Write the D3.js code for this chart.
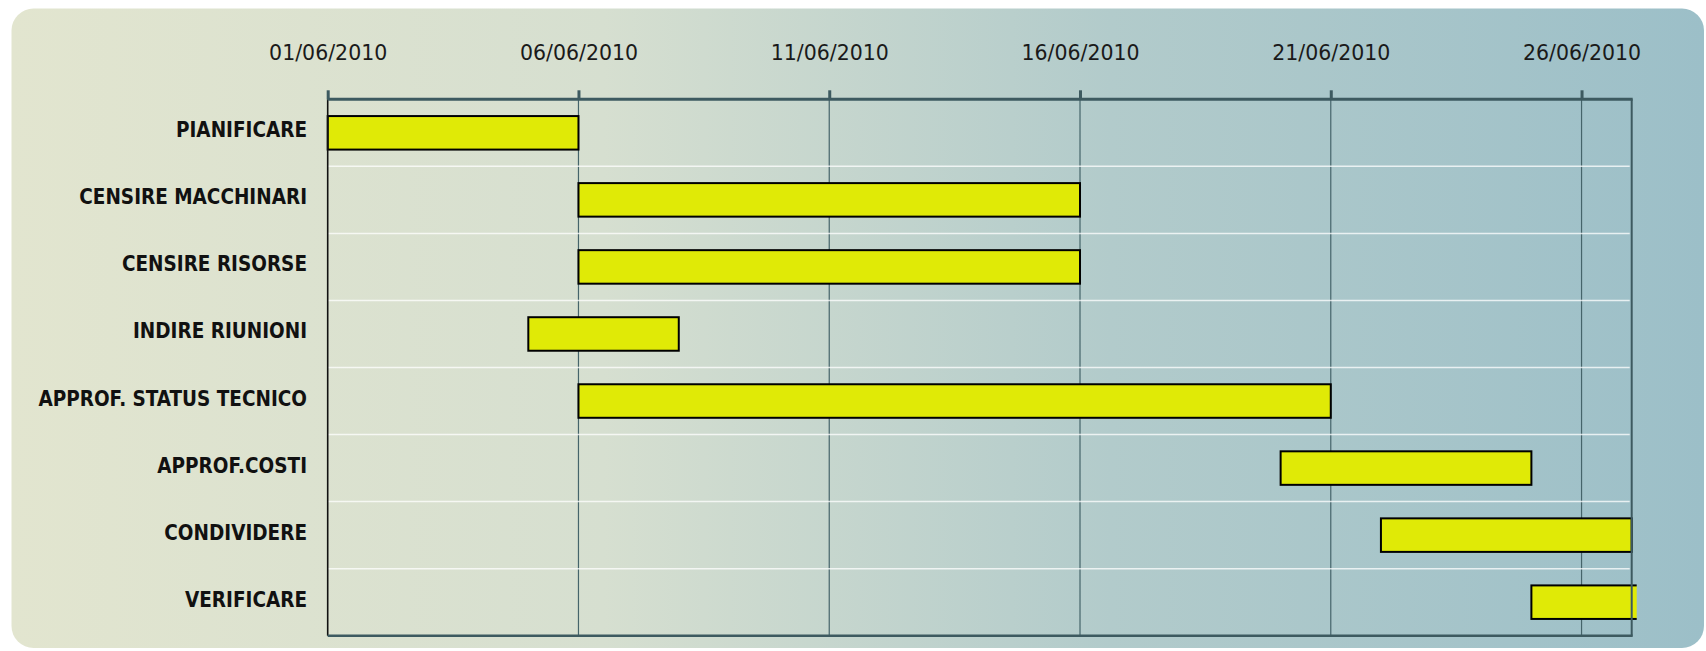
<!DOCTYPE html>
<html>
<head>
<meta charset="utf-8">
<script src="https://cdnjs.cloudflare.com/ajax/libs/d3/7.8.5/d3.min.js"></script>
<style>
  html, body { margin: 0; padding: 0; background: #ffffff; }
  svg { display: block; }
</style>
</head>
<body>
<svg id="chart" width="1706" height="651"></svg>
<script>
// ---- data ----
const categories = [
  "PIANIFICARE",
  "CENSIRE MACCHINARI",
  "CENSIRE RISORSE",
  "INDIRE RIUNIONI",
  "APPROF. STATUS TECNICO",
  "APPROF.COSTI",
  "CONDIVIDERE",
  "VERIFICARE"
];
const startDates = ["2010-06-01","2010-06-06","2010-06-06","2010-06-05","2010-06-06","2010-06-20","2010-06-22","2010-06-25"];
const endDates   = ["2010-06-06","2010-06-16","2010-06-16","2010-06-08","2010-06-21","2010-06-25","2010-06-27","2010-06-30"];
const tickDates  = ["2010-06-01","2010-06-06","2010-06-11","2010-06-16","2010-06-21","2010-06-26"];
const tickLabels = ["01/06/2010","06/06/2010","11/06/2010","16/06/2010","21/06/2010","26/06/2010"];
const axisRange  = ["2010-06-01","2010-06-27"];

// ---- helpers ----
const parseDate = s => { const [yy,mm,dd] = s.split("-").map(Number); return new Date(yy, mm-1, dd); };

const svg = d3.select("#chart");

// background card with gradient
const defs = svg.append("defs");
const grad = defs.append("linearGradient").attr("id","bg").attr("x1","0").attr("x2","1").attr("y1","0").attr("y2","0");
grad.append("stop").attr("offset","0%").attr("stop-color","#e2e5cf");
grad.append("stop").attr("offset","35%").attr("stop-color","#d6dfd0");
grad.append("stop").attr("offset","65%").attr("stop-color","#b2cbcb");
grad.append("stop").attr("offset","100%").attr("stop-color","#9cbfc8");

svg.append("rect")
  .attr("x", 11.5).attr("y", 8.5)
  .attr("width", 1704 - 11.5).attr("height", 648 - 8.5)
  .attr("rx", 22).attr("ry", 22)
  .attr("fill", "url(#bg)");

// plot area
const pLeft = 327.7, pRight = 1631.7, pTop = 99.3, pBottom = 635.7;

const x = d3.scaleTime()
  .domain(axisRange.map(parseDate))
  .range([pLeft, pRight]);

const y = d3.scaleBand()
  .domain(categories)
  .range([pTop, pBottom])
  .paddingInner(0.5)
  .paddingOuter(0.25);

const step = y.step();

// vertical gridlines
svg.append("g")
  .selectAll("line")
  .data(tickDates.map(parseDate).slice(1))
  .join("line")
  .attr("x1", d => x(d)).attr("x2", d => x(d))
  .attr("y1", pTop).attr("y2", pBottom)
  .attr("stroke", "#45646a")
  .attr("stroke-width", 1.2);

// horizontal row separators (white)
svg.append("g")
  .selectAll("line")
  .data(categories.slice(1))
  .join("line")
  .attr("x1", pLeft).attr("x2", pRight - 2)
  .attr("y1", d => y(d) - step * 0.25)
  .attr("y2", d => y(d) - step * 0.25)
  .attr("stroke", "#ffffff")
  .attr("stroke-opacity", 0.75)
  .attr("stroke-width", 1.5);

// bars (slightly clipped beyond right edge)
defs.append("clipPath").attr("id","barclip")
  .append("rect")
  .attr("x", pLeft - 5).attr("y", pTop)
  .attr("width", pRight - pLeft + 10).attr("height", pBottom - pTop);

svg.append("g")
  .attr("clip-path", "url(#barclip)")
  .selectAll("rect")
  .data(categories)
  .join("rect")
  .attr("x", (d,i) => x(parseDate(startDates[i])))
  .attr("y", d => y(d))
  .attr("width", (d,i) => x(parseDate(endDates[i])) - x(parseDate(startDates[i])))
  .attr("height", y.bandwidth())
  .attr("fill", "#e0ea06")
  .attr("stroke", "#000000")
  .attr("stroke-width", 2);

// borders
svg.append("line")
  .attr("x1", pLeft).attr("x2", pLeft).attr("y1", pTop).attr("y2", pBottom)
  .attr("stroke", "#111111").attr("stroke-width", 1.6);
svg.append("line")
  .attr("x1", pRight).attr("x2", pRight).attr("y1", pTop).attr("y2", pBottom)
  .attr("stroke", "#3d5a60").attr("stroke-width", 2);
svg.append("line")
  .attr("x1", pLeft).attr("x2", pRight + 1).attr("y1", pBottom).attr("y2", pBottom)
  .attr("stroke", "#3d5a60").attr("stroke-width", 2.5);

// top axis
const axis = d3.axisTop(x)
  .tickValues(tickDates.map(parseDate))
  .tickFormat((d,i) => tickLabels[i])
  .tickSize(9)
  .tickSizeOuter(0)
  .tickPadding(30.5);

const gAxis = svg.append("g")
  .attr("transform", `translate(0,${pTop})`)
  .call(axis);

gAxis.select(".domain")
  .attr("stroke", "#3d5a60")
  .attr("stroke-width", 3)
  .attr("d", `M${pLeft},0H${pRight + 1}`);
gAxis.selectAll(".tick line")
  .attr("stroke", "#3d5a60")
  .attr("stroke-width", 3);
gAxis.selectAll(".tick text")
  .attr("fill", "#1a1a1a")
  .attr("dy", "0")
  .style("font-family", "'DejaVu Sans', sans-serif")
  .style("font-size", "20.5px");

// category labels
svg.append("g")
  .selectAll("text")
  .data(categories)
  .join("text")
  .attr("x", 307)
  .attr("y", d => y(d) + y.bandwidth() / 2 + 4.5)
  .attr("text-anchor", "end")
  .attr("fill", "#111111")
  .style("font-family", "'DejaVu Sans Condensed', 'DejaVu Sans', sans-serif")
  .style("font-weight", "bold")
  .style("font-size", "20.5px")
  .text(d => d);
</script>
</body>
</html>
